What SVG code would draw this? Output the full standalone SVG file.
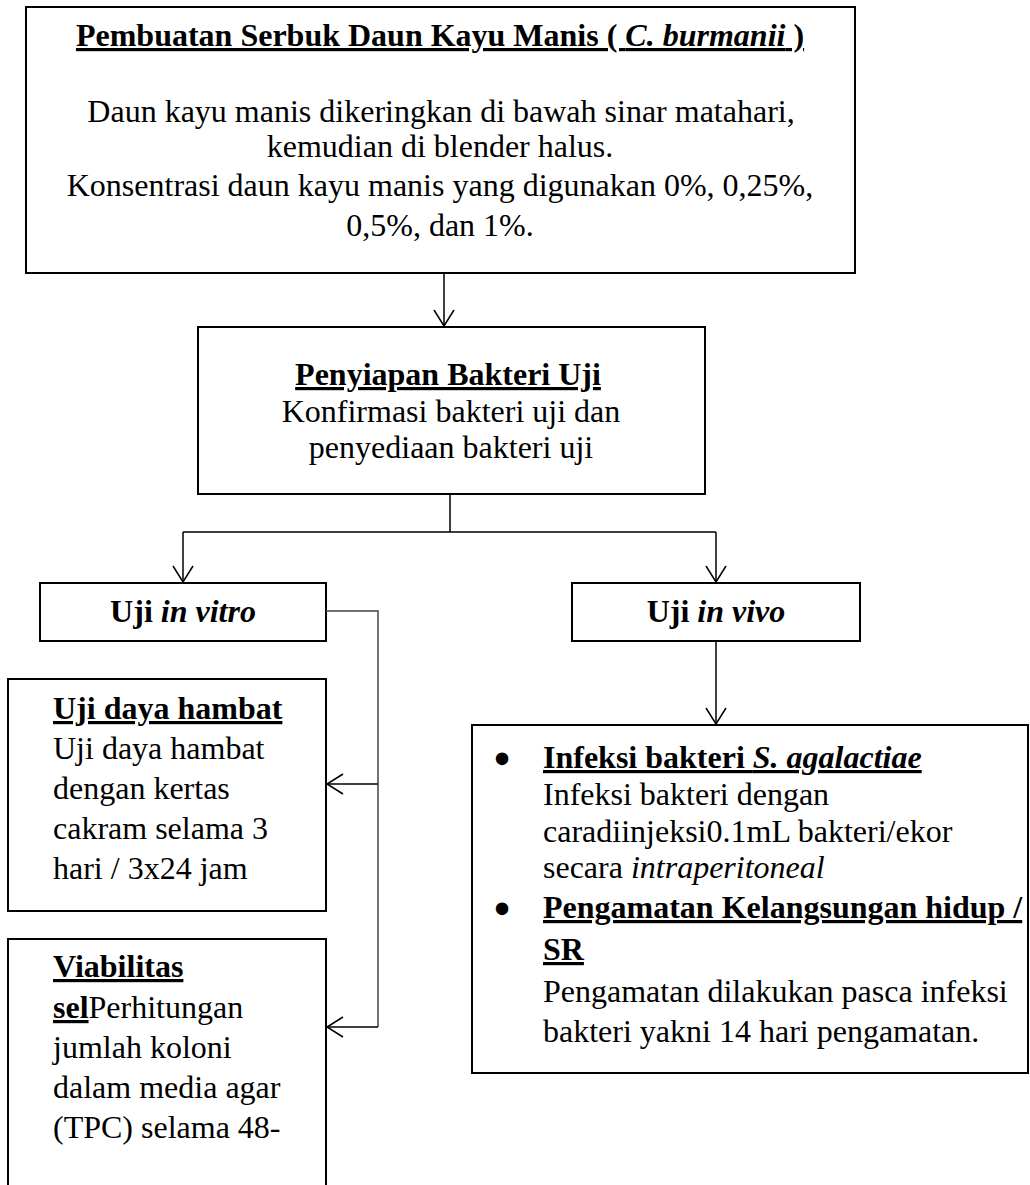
<svg xmlns="http://www.w3.org/2000/svg" width="1030" height="1185" viewBox="0 0 1030 1185">
<style>
text{font-family:"Liberation Serif","Times New Roman",serif;font-size:32px;fill:#000}
.b{font-weight:bold}
.i{font-style:italic}
.u{text-decoration:underline}
.bl{font-size:46px;font-weight:bold;text-anchor:middle}
.box{fill:#fff;stroke:#000;stroke-width:2}
.c{fill:none;stroke:#000;stroke-width:1.5}
.g{fill:none;stroke:#444;stroke-width:1.5}
.m{text-anchor:middle}
</style>
<defs>
<marker id="ah" viewBox="0 0 18 22" refX="17" refY="11" markerWidth="18" markerHeight="22" markerUnits="userSpaceOnUse" orient="auto">
<path d="M1,1 L17,11 L1,21" fill="none" stroke="#000" stroke-width="1.5"/>
</marker>
</defs>
<rect width="1030" height="1185" fill="#fff"/>
<g id="n1">
<rect class="box" x="26" y="7" width="829" height="266"/>
<text class="m" x="440" y="46"><tspan class="b u">Pembuatan Serbuk Daun Kayu Manis ( <tspan class="i">C. burmanii</tspan> )</tspan></text>
<text class="m" x="441" y="122">Daun kayu manis dikeringkan di bawah sinar matahari,</text>
<text class="m" x="440" y="157">kemudian di blender halus.</text>
<text class="m" x="440" y="196">Konsentrasi daun kayu manis yang digunakan 0%, 0,25%,</text>
<text class="m" x="440" y="236">0,5%, dan 1%.</text>
</g>
<g id="n2">
<rect class="box" x="198" y="327" width="507" height="167"/>
<text class="m b u" x="448" y="385">Penyiapan Bakteri Uji</text>
<text class="m" x="451" y="422">Konfirmasi bakteri uji dan</text>
<text class="m" x="451" y="458">penyediaan bakteri uji</text>
</g>
<g id="n3">
<rect class="box" x="40" y="583" width="286" height="58"/>
<text class="m b" x="183" y="622">Uji <tspan class="i">in vitro</tspan></text>
</g>
<g id="n4">
<rect class="box" x="572" y="583" width="288" height="58"/>
<text class="m b" x="716" y="622">Uji <tspan class="i">in vivo</tspan></text>
</g>
<g id="n5">
<rect class="box" x="8" y="679" width="318" height="232"/>
<text class="b u" x="53" y="719">Uji daya hambat</text>
<text x="53" y="759">Uji daya hambat</text>
<text x="53" y="799">dengan kertas</text>
<text x="53" y="839">cakram selama 3</text>
<text x="53" y="879">hari / 3x24 jam</text>
</g>
<g id="n6">
<rect class="box" x="8" y="939" width="318" height="270"/>
<text class="b u" x="53" y="977">Viabilitas</text>
<text x="53" y="1018"><tspan class="b u">sel</tspan>Perhitungan</text>
<text x="53" y="1058">jumlah koloni</text>
<text x="53" y="1098">dalam media agar</text>
<text x="53" y="1138">(TPC) selama 48-</text>
</g>
<g id="n7">
<rect class="box" x="472" y="725" width="556" height="348"/>
<text class="bl" x="502" y="774">•</text>
<text x="543" y="768"><tspan class="b u">Infeksi bakteri <tspan class="i">S. agalactiae</tspan></tspan></text>
<text x="543" y="805">Infeksi bakteri dengan</text>
<text x="543" y="842">caradiinjeksi0.1mL bakteri/ekor</text>
<text x="543" y="878">secara <tspan class="i">intraperitoneal</tspan></text>
<text class="bl" x="502" y="924">•</text>
<text class="b u" x="543" y="918">Pengamatan Kelangsungan hidup /</text>
<text class="b u" x="543" y="960">SR</text>
<text x="543" y="1002">Pengamatan dilakukan pasca infeksi</text>
<text x="543" y="1042">bakteri yakni 14 hari pengamatan.</text>
</g>
<g id="connectors">
<path class="c" d="M444,273 V326" marker-end="url(#ah)"/>
<path class="c" d="M450,494 V532 M183,532 H716"/>
<path class="c" d="M183,532 V582" marker-end="url(#ah)"/>
<path class="c" d="M716,532 V582" marker-end="url(#ah)"/>
<path class="g" d="M326,611 H378 V1027"/>
<path class="c" d="M378,784 H327" marker-end="url(#ah)"/>
<path class="c" d="M378,1027 H327" marker-end="url(#ah)"/>
<path class="c" d="M716,641 V724" marker-end="url(#ah)"/>
</g>
</svg>
